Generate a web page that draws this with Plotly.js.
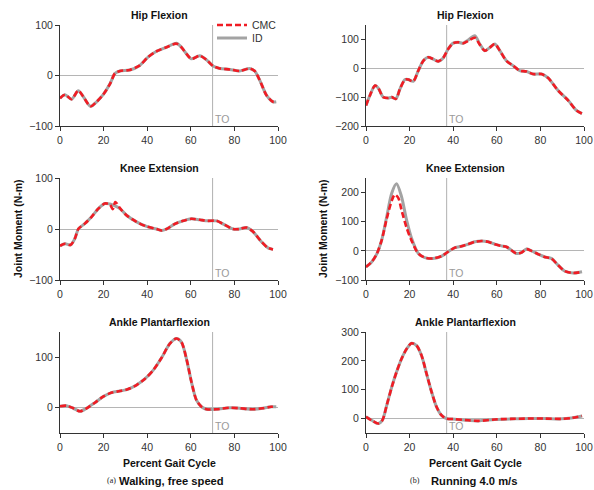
<!DOCTYPE html>
<html>
<head>
<meta charset="utf-8">
<script src="https://cdn.plot.ly/plotly-3.0.1.min.js"></script>
<style>html,body{margin:0;padding:0;background:#fff;}#chart{width:594px;height:490px;}</style>
</head>
<body>
<div id="chart"></div>
<script>
// ---------- data ----------
const xTicks = [0, 20, 40, 60, 80, 100];
const panelTitles = ['Hip Flexion', 'Hip Flexion', 'Knee Extension', 'Knee Extension', 'Ankle Plantarflexion', 'Ankle Plantarflexion'];
const toeOffWalk = 70;
const toeOffRun = 37;

// Hip flexion, walking
const xHipWalk = [0,2.3,5.3,8.4,10.7,14,16.8,19.8,23,25.2,27.5,32,36.6,40.5,44.3,48.9,53.4,55.7,58,60.3,64.1,67.2,70.2,73.3,77.9,82.4,87,89.3,91.6,94.7,97.7,99.2];
const idHipWalk = [-45,-38,-47,-30,-42,-61,-52,-38,-16,4,9,11,20,37,48,56,64,56,43,33,39,31,19,14,12,9,14,9,-9,-39,-52,-52];
const cmcHipWalk = [-45,-38,-47,-30,-42,-61,-52,-38,-16,4,9,11,20,37,48,56,63,56,43,33,39,31,19,14,12,9,14,9,-9,-39,-52,-52];

// Hip flexion, running
const xHipRun = [0,1.8,4.1,5.6,7.9,10.2,11.8,13.7,15.6,17.9,19.4,21.7,24,26.3,28.5,30.8,33.1,35.4,37.7,40,42.3,44.6,46.9,49.9,52.2,54.5,56.8,59.1,61.4,64.4,67.5,70.5,73.6,76.6,80.5,83.5,88.1,92.7,96.5,99.1];
const idHipRun = [-129,-94,-60,-68,-100,-103,-100,-106,-71,-39,-39,-45,-8,26,38,32,24,36,67,87,90,87,98,113,84,61,72,84,61,26,9,-8,-11,-20,-20,-33,-77,-111,-146,-157];
const cmcHipRun = [-129,-94,-60,-68,-100,-103,-100,-106,-71,-39,-39,-45,-8,26,38,32,24,36,67,87,90,87,95,106,82,61,72,84,61,26,9,-8,-11,-20,-20,-33,-77,-111,-146,-157];

// Knee extension, walking
const xKneeWalk = [0,2.3,4.9,6.9,8.4,11.5,14.5,17.6,20.6,22.9,25,27.5,30.5,35.1,39.7,44.3,46.6,48.9,52.7,56.5,60.3,64.1,67.9,71.8,75.6,79.4,82.4,85.5,88.5,92.4,95.4,97.7];
const idKneeWalk = [-33,-29,-31,-18,0,11,24,40,50,49,46,40,27,14,5,0,-3,0,10,16,20,18,16,16,8,0,0,3,-5,-25,-37,-40];
const xKneeWalkCmc = [0,2.3,4.9,6.9,8.4,11.5,14.5,17.6,20.6,22.9,24.2,25.4,27.5,30.5,35.1,39.7,44.3,46.6,48.9,52.7,56.5,60.3,64.1,67.9,71.8,75.6,79.4,82.4,85.5,88.5,92.4,95.4,97.7];
const cmcKneeWalk = [-33,-29,-31,-18,0,11,24,40,50,48,39,53,41,27,14,5,0,-3,0,10,16,20,18,16,16,8,0,0,3,-5,-25,-37,-40];

// Knee extension, running
const xKneeRun = [0,2.6,4.9,7.2,9.5,11.8,14,16.3,18.6,20.9,24,27,30.8,34.7,37.7,40.8,43.8,46.9,49.9,53,56,59.1,62.1,64.4,66.7,69,71.3,73.6,75.9,78.9,82,85,88.1,91.1,95,99.1];
const idKneeRun = [-55,-38,-11,37,117,198,230,186,106,43,-9,-23,-26,-18,-3,11,16,23,31,34,31,23,17,14,2,-9,-6,6,0,-11,-21,-26,-49,-69,-76,-72];
const xKneeRunCmc = [0,2.6,4.9,7.2,9.5,11.8,13.2,14.8,16.3,18.6,20.9,24,27,30.8,34.7,37.7,40.8,43.8,46.9,49.9,53,56,59.1,62.1,64.4,66.7,69,71.3,73.6,75.9,78.9,82,85,88.1,91.1,95,99.1];
const cmcKneeRun = [-55,-38,-11,37,110,172,193,182,140,80,35,-9,-23,-26,-18,-3,11,16,23,31,34,31,23,17,14,2,-9,-6,6,0,-11,-21,-26,-49,-69,-76,-72];

// Ankle plantarflexion, walking
const xAnkleWalk = [0,3,6.1,9.2,12.2,16,19.8,23.7,27.5,31.3,35.1,38.9,42.7,46.6,50.4,53.4,55.7,58,60.3,62.6,64.9,67.2,71.8,77.9,82.4,88.5,93,96.9,99.2];
const idAnkleWalk = [3,4,-1,-7,-1,10,22,30,33,37,45,57,74,99,127,137,130,97,51,15,2,-3,-3,0,-1,-3,-1,2,2];
const cmcAnkleWalk = [3,4,-1,-7,-1,10,22,30,33,37,45,57,74,99,127,137,130,97,51,15,2,-3,-3,0,-1,-3,-1,2,2];

// Ankle plantarflexion, running
const xAnkleRun = [0,2.6,5.6,7.5,9.5,11.8,14,16.3,18.6,20.9,23.2,25.5,27.8,30.1,32.4,34.7,37,40.8,46.9,51.5,59.1,66.7,74.4,82,89.6,94.2,99.1];
const idAnkleRun = [6,-6,-17,-6,46,109,161,207,241,261,253,218,155,92,40,11,0,-2,-6,-8,-3,-1,0,0,-1,2,9];
const cmcAnkleRun = [6,-6,-17,-6,46,109,161,207,241,261,253,218,155,92,40,11,0,-2,-6,-8,-3,-1,0,0,-1,2,9];

// y-axis ranges and ticks per panel
const yRanges = [[-100,100],[-200,150],[-100,100],[-100,250],[-50,150],[-50,300]];
const yTicks = [[-100,0,100],[-200,-100,0,100],[-100,0,100],[-100,0,100,200],[0,100],[0,100,200,300]];

// ---------- build ----------
const FONT = 'Liberation Sans, Arial, Helvetica, sans-serif';
const RED = '#f01c24';
const GRAY = '#a3a3a3';

const panels = [
  {xi: xHipWalk, id: idHipWalk, xc: xHipWalk, cmc: cmcHipWalk, to: toeOffWalk},
  {xi: xHipRun, id: idHipRun, xc: xHipRun, cmc: cmcHipRun, to: toeOffRun},
  {xi: xKneeWalk, id: idKneeWalk, xc: xKneeWalkCmc, cmc: cmcKneeWalk, to: toeOffWalk},
  {xi: xKneeRun, id: idKneeRun, xc: xKneeRunCmc, cmc: cmcKneeRun, to: toeOffRun},
  {xi: xAnkleWalk, id: idAnkleWalk, xc: xAnkleWalk, cmc: cmcAnkleWalk, to: toeOffWalk},
  {xi: xAnkleRun, id: idAnkleRun, xc: xAnkleRun, cmc: cmcAnkleRun, to: toeOffRun}
];

const W = 594, H = 490;
const colX = [[60, 278], [366, 584]];
const rowY = [[25, 126], [178, 280], [332, 433]];

const traces = [];
const layout = {
  width: W, height: H,
  margin: {l: 0, r: 0, t: 0, b: 0},
  paper_bgcolor: '#fff', plot_bgcolor: '#fff',
  font: {family: FONT, size: 10, color: '#222'},
  shapes: [], annotations: [],
  legend: {x: 212 / W, y: 1 - 25 / H, xanchor: 'left', yanchor: 'middle', bgcolor: 'rgba(0,0,0,0)', borderwidth: 0,
           font: {family: FONT, size: 10.5, color: '#333'}, itemwidth: 30},
  legend2: {x: 212 / W, y: 1 - 38 / H, xanchor: 'left', yanchor: 'middle', bgcolor: 'rgba(0,0,0,0)', borderwidth: 0,
           font: {family: FONT, size: 10.5, color: '#333'}, itemwidth: 30}
};

panels.forEach((p, i) => {
  const n = i + 1;
  const xa = n === 1 ? 'x' : 'x' + n;
  const ya = n === 1 ? 'y' : 'y' + n;
  const col = i % 2, row = Math.floor(i / 2);
  const dx = colX[col], dy = rowY[row];

  traces.push({
    x: p.xi, y: p.id, xaxis: xa, yaxis: ya, type: 'scatter', mode: 'lines', name: 'ID',
    line: {color: GRAY, width: 3, shape: 'spline', smoothing: 0.8},
    showlegend: i === 0, legend: 'legend2', hoverinfo: 'skip'
  });
  traces.push({
    x: p.xc, y: p.cmc, xaxis: xa, yaxis: ya, type: 'scatter', mode: 'lines', name: 'CMC',
    line: {color: RED, width: 2.6, dash: '6px,3px', shape: 'spline', smoothing: 0.8},
    showlegend: i === 0, legend: 'legend', hoverinfo: 'skip'
  });

  layout[n === 1 ? 'xaxis' : 'xaxis' + n] = {
    domain: [dx[0] / W, dx[1] / W], anchor: ya, range: [0, 100], tickvals: xTicks,
    showline: true, linecolor: '#333', linewidth: 1, ticks: 'outside', ticklen: 4, tickcolor: '#333',
    showgrid: false, zeroline: false, fixedrange: true,
    tickfont: {family: FONT, size: 10.5, color: '#333'}
  };
  layout[n === 1 ? 'yaxis' : 'yaxis' + n] = {
    domain: [1 - dy[1] / H, 1 - dy[0] / H], anchor: xa, range: yRanges[i], tickvals: yTicks[i],
    showline: true, linecolor: '#333', linewidth: 1, ticks: 'outside', ticklen: 4, tickcolor: '#333',
    showgrid: false, zeroline: true, zerolinecolor: '#b5b5b5', zerolinewidth: 1, fixedrange: true,
    tickfont: {family: FONT, size: 10.5, color: '#333'}
  };

  // toe-off line
  layout.shapes.push({
    type: 'line', xref: xa, yref: ya + ' domain', x0: p.to, x1: p.to, y0: 0, y1: 1,
    line: {color: '#b0b0b0', width: 1}, layer: 'below'
  });
  layout.annotations.push({
    text: 'TO', xref: xa, yref: ya + ' domain', x: p.to, y: 0, xanchor: 'left', yanchor: 'bottom',
    showarrow: false, xshift: 0, yshift: -1, font: {family: FONT, size: 10.5, color: '#9a9a9a'}
  });

  // panel title
  layout.annotations.push({
    text: '<b>' + panelTitles[i] + '</b>', xref: 'paper', yref: 'paper',
    x: ((dx[0] + dx[1]) / 2 - 10) / W, y: 1 - (dy[0] - 10) / H, xanchor: 'center', yanchor: 'middle',
    showarrow: false, font: {family: FONT, size: 10.5, color: '#111'}
  });
});

// axis titles and captions
[0, 1].forEach(col => {
  const dx = colX[col];
  layout.annotations.push({
    text: '<b>Percent Gait Cycle</b>', xref: 'paper', yref: 'paper',
    x: ((dx[0] + dx[1]) / 2) / W, y: 1 - 463 / H, xanchor: 'center', yanchor: 'middle',
    showarrow: false, font: {family: FONT, size: 10.5, color: '#111'}
  });
  layout.annotations.push({
    text: '<b>Joint Moment (N-m)</b>', xref: 'paper', yref: 'paper', textangle: -90,
    x: (col === 0 ? 18 : 323) / W, y: 1 - 229 / H, xanchor: 'center', yanchor: 'middle',
    showarrow: false, font: {family: FONT, size: 10.5, color: '#111'}
  });
});

layout.annotations.push({
  text: '(a)', xref: 'paper', yref: 'paper', x: 111 / W, y: 1 - 480 / H, xanchor: 'center', yanchor: 'middle',
  showarrow: false, font: {family: 'Liberation Serif, Times New Roman, serif', size: 8, color: '#222'}
});
layout.annotations.push({
  text: '<b>Walking, free speed</b>', xref: 'paper', yref: 'paper', x: 117 / W, y: 1 - 481 / H, xanchor: 'left', yanchor: 'middle',
  showarrow: false, font: {family: FONT, size: 11.2, color: '#111'}
});
layout.annotations.push({
  text: '(b)', xref: 'paper', yref: 'paper', x: 415 / W, y: 1 - 480 / H, xanchor: 'center', yanchor: 'middle',
  showarrow: false, font: {family: 'Liberation Serif, Times New Roman, serif', size: 8, color: '#222'}
});
layout.annotations.push({
  text: '<b>Running 4.0 m/s</b>', xref: 'paper', yref: 'paper', x: 429 / W, y: 1 - 481 / H, xanchor: 'left', yanchor: 'middle',
  showarrow: false, font: {family: FONT, size: 11.2, color: '#111'}
});

Plotly.newPlot('chart', traces, layout, {staticPlot: true, displayModeBar: false});
</script>
</body>
</html>
